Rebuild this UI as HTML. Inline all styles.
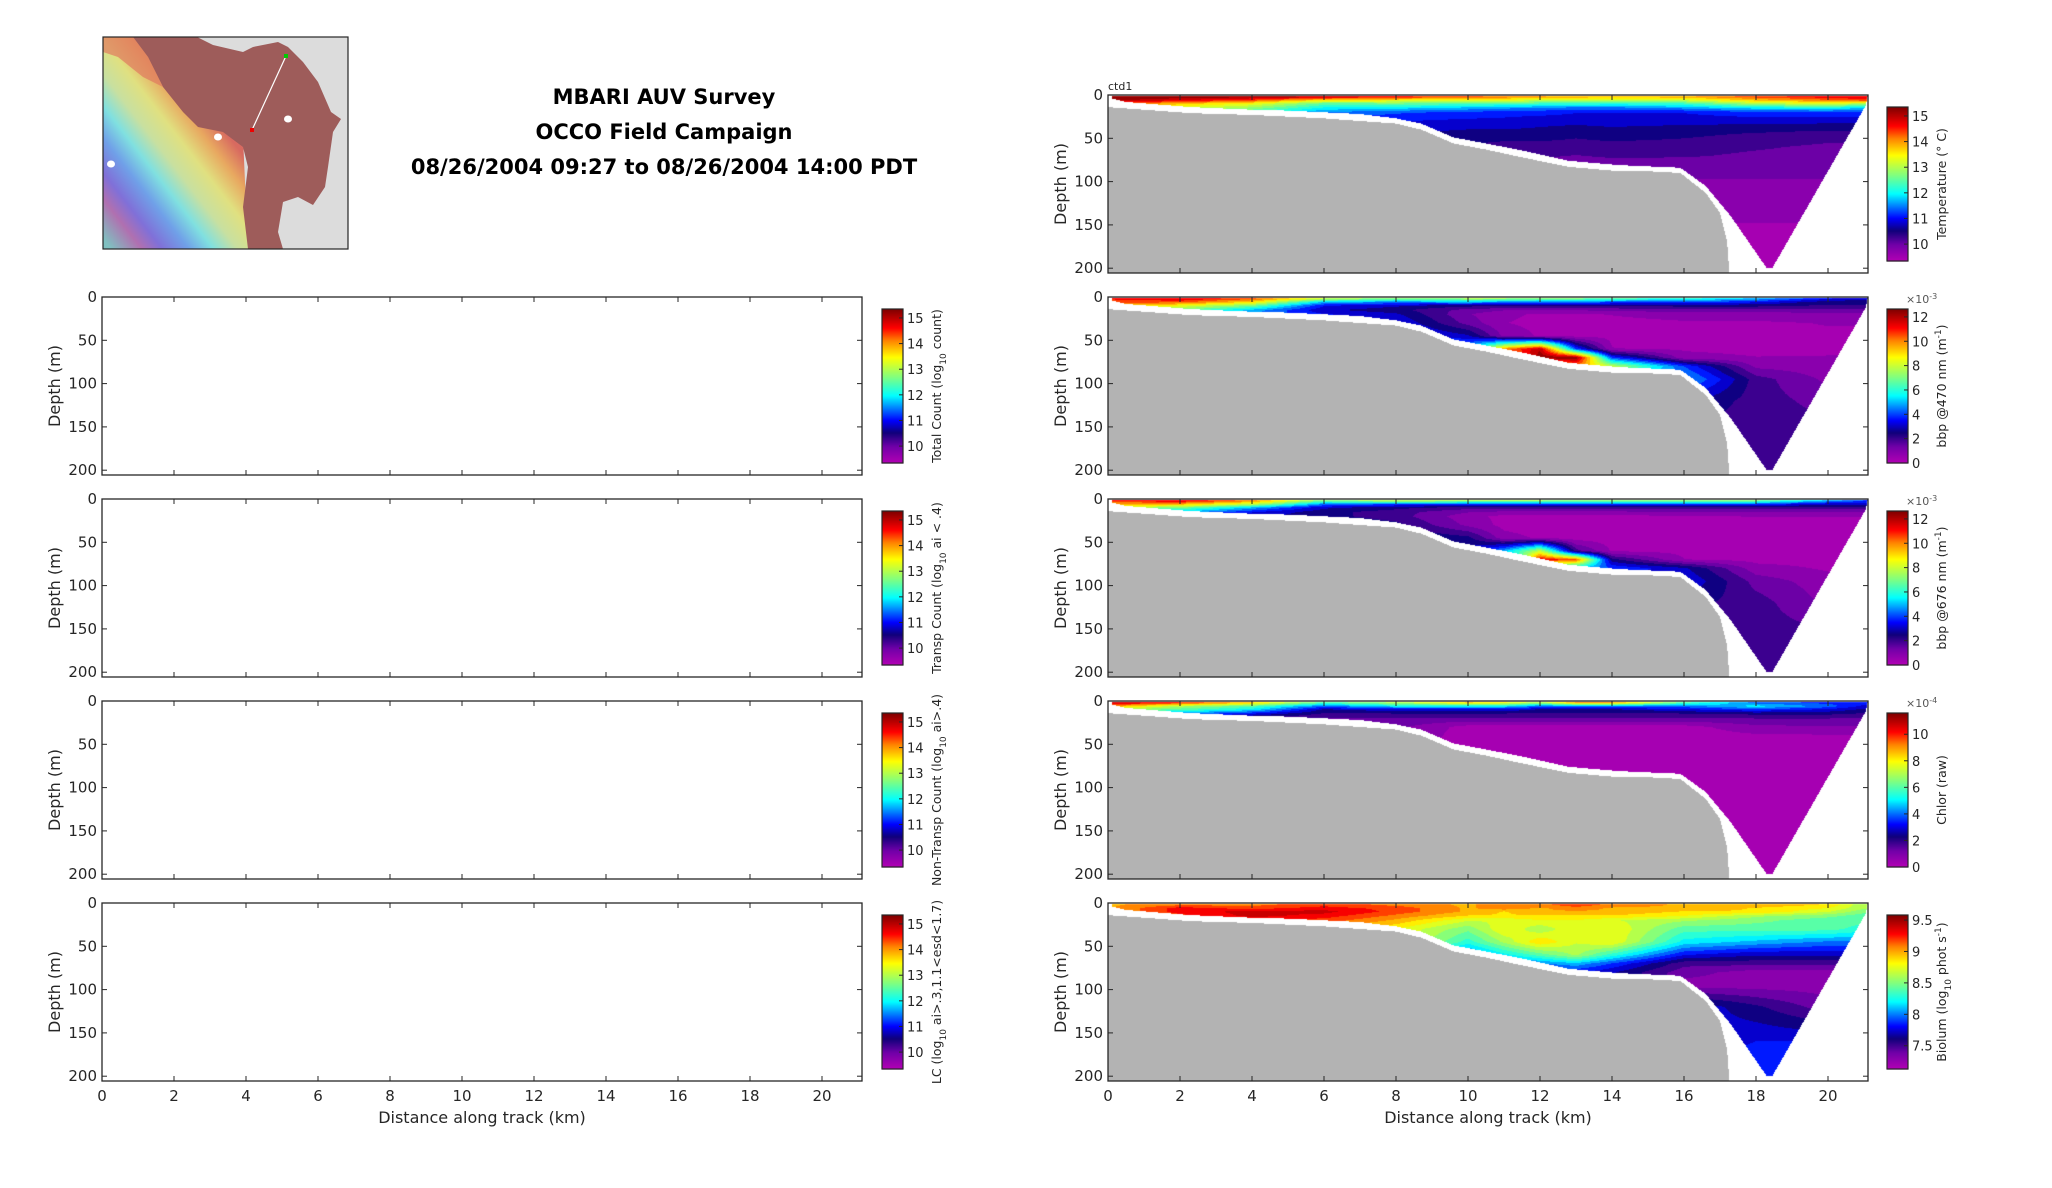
<!DOCTYPE html>
<html><head><meta charset="utf-8">
<style>
html,body{margin:0;padding:0;background:#fff;}
#root{position:relative;width:2052px;height:1188px;overflow:hidden;font-family:"DejaVu Sans","Liberation Sans",sans-serif;}
canvas{position:absolute;}
svg{position:absolute;left:0;top:0;}
</style></head>
<body>
<div id="root">
<svg id="ov" width="2052" height="1188"></svg>
</div>
<script>
// ---------- data ----------
const xKm = [0,2,4,6,8,10,11,12,13,14,16,18,20,21];
const dLev = [2,6,10,15,20,30,45,60,70,80,95,120,160,200];
const sfKm  = [0,1,2.3,4,5,6,7,8,8.7,9.6,10.5,11.5,12.8,14.2,15,15.9,16.6,17.0,17.2,17.26];
const sfDep = [14,17,21,23,25,27,30,33,40,56,63,72,83,88,88,90,113,136,170,206];
const envKm  = [0.1,0.5,2.3,4,5,6,7,8,8.7,9.6,10.5,11.5,12.8,14.2,15.9,16.6,17.0,17.3,18.3,18.45,21.05,21.1];
const envDep = [4,8,14,17,18,20,22,27,33,49,56,64,76,81,84,105,125,140,200,200,12,2];
const tempVals = [
[15.3,15.3,15.2,15.0,14.6,14.3,14.2,14.0,13.9,13.8,13.9,14.4,14.7,14.8],
[15.2,14.8,14.4,13.6,13.5,13.3,13.3,13.2,13.2,13.1,13.2,13.8,14.2,14.4],
[14.3,13.8,13.4,12.5,12.6,12.4,12.4,12.3,12.3,12.2,12.3,13.0,13.3,13.0],
[13.5,13.2,12.8,12.0,11.9,11.7,11.6,11.5,11.4,11.4,11.6,11.9,12.0,11.8],
[13.0,12.8,12.3,11.5,11.3,11.2,11.1,11.1,11.0,11.0,11.0,11.2,11.2,11.2],
[12.5,12.3,11.8,11.1,11.0,10.9,10.9,10.8,10.8,10.8,10.8,10.8,10.8,10.8],
[12.0,12.0,11.5,10.8,10.7,10.6,10.6,10.6,10.5,10.6,10.5,10.4,10.3,10.3],
[10.4,10.4,10.4,10.4,10.4,10.4,10.3,10.3,10.3,10.3,10.3,10.2,10.1,10.1],
[10.2,10.2,10.2,10.2,10.2,10.2,10.2,10.2,10.15,10.2,10.2,10.1,10.05,10.05],
[10.05,10.05,10.05,10.05,10.05,10.05,10.05,10.05,10.05,10.05,10.0,10.0,10.0,10.0],
[9.9,9.9,9.9,9.9,9.9,9.9,9.9,9.9,9.9,9.9,9.9,9.9,9.9,9.9],
[9.75,9.75,9.75,9.75,9.75,9.75,9.75,9.75,9.75,9.75,9.75,9.75,9.75,9.75],
[9.55,9.55,9.55,9.55,9.55,9.55,9.55,9.55,9.55,9.55,9.55,9.55,9.55,9.55],
[9.4,9.4,9.4,9.4,9.4,9.4,9.4,9.4,9.4,9.4,9.4,9.4,9.4,9.4]];
const bbp470Vals = [
[11,11.5,10.5,8,7,7.5,7.5,7,7,6.5,6,5,3.5,3],
[10.5,10.5,9,5,4.5,5,4.5,4.5,4.5,4,4,3.5,2.5,2.5],
[9.5,8.5,7,3.5,3,2.5,2.5,2.5,2.5,2.5,2.5,2.5,2.2,2.2],
[8,7,5,3,2.5,1.5,1.2,1.2,1.2,1.3,1.5,1.5,1.5,1.5],
[7,6,4.5,3.5,3,1.2,0.7,0.5,0.5,0.6,0.8,0.8,1,1],
[5,5,4.5,4,3.5,1.5,0.6,0.4,0.4,0.4,0.5,0.5,0.6,0.6],
[4,4,4,4,4,3,1,0.5,0.4,0.4,0.4,0.4,0.5,0.5],
[4,4,4,4,4,5,10,12,4,0.6,0.5,0.4,0.5,0.5],
[4,4,4,4,4,4,9,12.5,12.5,4,0.8,0.6,0.6,0.6],
[4,4,4,4,4,4,4,7,10,8,4,1,0.8,0.8],
[3,3,3,3,3,3,3,3,4,4,5,2,1,1],
[2.5,2.5,2.5,2.5,2.5,2.5,2.5,2.5,2.5,2.5,3,2,1.5,1.5],
[2,2,2,2,2,2,2,2,2,2,2,2,2,2],
[1.8,1.8,1.8,1.8,1.8,1.8,1.8,1.8,1.8,1.8,1.8,1.8,1.8,1.8]];
const bbp676Vals = [
[11,11.5,10,7,8,7.5,7.5,7.5,7,7,7,7,5,4],
[9.5,9.5,8,4.5,4,4,4,4,4,4,4,4,3,3],
[8,7,5,3,2.5,2,2,2,2,2,2,2,2,2],
[6,5,3.5,2.5,2,1.2,1,1,1,1,1.2,1.2,1.2,1.2],
[5,4,3,2.5,2,0.8,0.4,0.4,0.4,0.4,0.5,0.6,0.6,0.6],
[4,4,3,3,2.5,1,0.4,0.3,0.3,0.3,0.4,0.4,0.4,0.4],
[3,3,3,3,3,2.5,0.8,0.5,0.3,0.3,0.3,0.3,0.3,0.3],
[3,3,3,3,3,3,5,8,2,0.5,0.4,0.3,0.3,0.3],
[3,3,3,3,3,3,3,11.5,10.5,2.5,0.6,0.4,0.4,0.4],
[3,3,3,3,3,3,3,4,5,4,3,0.8,0.5,0.5],
[2.5,2.5,2.5,2.5,2.5,2.5,2.5,2.5,2.5,2.5,3.5,1.5,0.8,0.8],
[2.2,2.2,2.2,2.2,2.2,2.2,2.2,2.2,2.2,2.2,2.5,2,1,1],
[2,2,2,2,2,2,2,2,2,2,2,2,2,2],
[1.8,1.8,1.8,1.8,1.8,1.8,1.8,1.8,1.8,1.8,1.8,1.8,1.8,1.8]];
const chlorVals = [
[11,10,8.5,6,7,8.5,8,7,9,9,6,4,3.5,3.5],
[9,7,6,4,5,5,5,4,4,4,4,5,4,3],
[7,6,5,2.5,3,3,3,2.5,2.5,2.5,3,3.5,3,2.5],
[5,4,3,2,2,2,2,2,2,2,2,2.2,2.2,2],
[4,3,2,1.5,1.5,1.5,1.5,1.5,1.5,1.5,1.5,1.6,1.6,1.5],
[3,2,2,1.5,1.2,0.3,0.3,0.3,0.3,0.3,0.3,0.9,1,1],
[2,2,2,1.5,1,0.2,0.2,0.2,0.2,0.2,0.2,0.2,0.2,0.2],
[0.2,0.2,0.2,0.2,0.2,0.2,0.2,0.2,0.2,0.2,0.2,0.2,0.2,0.2],
[0.2,0.2,0.2,0.2,0.2,0.2,0.2,0.2,0.2,0.2,0.2,0.2,0.2,0.2],
[0.2,0.2,0.2,0.2,0.2,0.2,0.2,0.2,0.2,0.2,0.2,0.2,0.2,0.2],
[0.2,0.2,0.2,0.2,0.2,0.2,0.2,0.2,0.2,0.2,0.2,0.2,0.2,0.2],
[0.2,0.2,0.2,0.2,0.2,0.2,0.2,0.2,0.2,0.2,0.2,0.2,0.2,0.2],
[0.2,0.2,0.2,0.2,0.2,0.2,0.2,0.2,0.2,0.2,0.2,0.2,0.2,0.2],
[0.2,0.2,0.2,0.2,0.2,0.2,0.2,0.2,0.2,0.2,0.2,0.2,0.2,0.2]];
const biolumVals = [
[9.0,9.1,9.1,9.2,9.1,9.0,9.1,9.1,9.2,9.1,9.0,9.0,8.9,8.6],
[9.0,9.3,9.2,9.3,9.2,9.0,9.1,9.0,9.1,9.0,9.0,8.9,8.8,8.6],
[9.0,9.3,9.4,9.4,9.2,9.0,8.9,9.0,9.0,9.0,8.9,8.9,8.7,8.5],
[9.0,9.2,9.4,9.3,9.1,8.9,8.9,8.9,8.9,8.9,8.8,8.6,8.5,8.4],
[9.0,9.0,9.2,9.2,9.0,8.7,8.7,8.8,8.8,8.7,8.6,8.5,8.4,8.4],
[9.0,9.0,9.0,9.0,8.8,8.5,8.8,8.6,8.8,8.8,8.4,8.4,8.4,8.3],
[9.0,9.0,9.0,9.0,8.8,8.3,8.6,8.9,8.7,8.8,8.2,8.1,8.0,8.0],
[8.5,8.5,8.5,8.5,8.3,7.9,8.2,8.4,8.6,8.3,7.8,7.7,7.7,7.7],
[8.2,8.2,8.2,8.2,8.0,7.8,7.9,8.0,8.1,7.9,7.5,7.5,7.5,7.5],
[7.9,7.9,7.9,7.9,7.9,7.8,7.8,7.8,7.8,7.7,7.4,7.3,7.3,7.4],
[7.8,7.8,7.8,7.8,7.8,7.8,7.8,7.8,7.8,7.8,7.3,7.3,7.3,7.3],
[7.6,7.6,7.6,7.6,7.6,7.6,7.6,7.6,7.6,7.6,7.8,7.6,7.4,7.4],
[7.8,7.8,7.8,7.8,7.8,7.8,7.8,7.8,7.8,7.8,7.7,7.8,7.8,7.8],
[7.9,7.9,7.9,7.9,7.9,7.9,7.9,7.9,7.9,7.9,7.9,7.9,7.9,7.9]];
const xTicks = [0,2,4,6,8,10,12,14,16,18,20];
const yTicks = [0,50,100,150,200];
const leftCbTicks = [10,11,12,13,14,15];
const tempTicks = [10,11,12,13,14,15];
const bbpTicks = [0,2,4,6,8,10,12];
const chlorTicks = [0,2,4,6,8,10];
const biolumTicks = [7.5,8,8.5,9,9.5];

// ---------- helpers ----------
const NS='http://www.w3.org/2000/svg';
const ov=document.getElementById('ov');
const root=document.getElementById('root');
function el(tag,attrs,parent){const e=document.createElementNS(NS,tag);for(const k in attrs)e.setAttribute(k,attrs[k]);(parent||ov).appendChild(e);return e;}
function lin(xs,ys,x){if(x<=xs[0])return ys[0];for(let i=0;i<xs.length-1;i++){if(x<=xs[i+1]){const t=(x-xs[i])/(xs[i+1]-xs[i]||1);return ys[i]+t*(ys[i+1]-ys[i]);}}return ys[ys.length-1];}
function idx(arr,v){if(v<=arr[0])return [0,0];for(let i=0;i<arr.length-1;i++){if(v<=arr[i+1])return [i,(v-arr[i])/(arr[i+1]-arr[i])];}return [arr.length-2,1];}
function bil(g,km,d){const [i,tx]=idx(xKm,km);const [j,ty]=idx(dLev,d);
 const a=g[j][i],b=g[j][i+1],c=g[j+1][i],e=g[j+1][i+1];
 return (a*(1-tx)+b*tx)*(1-ty)+(c*(1-tx)+e*tx)*ty;}
const CM=[[0,180,0,180],[0.11,112,0,168],[0.2,16,0,122],[0.28,0,0,255],[0.44,0,255,255],[0.56,128,255,128],[0.69,255,255,0],[0.8,255,128,0],[0.88,255,0,0],[1,128,0,0]];
function cmap(t){t=Math.max(0,Math.min(1,t));for(let i=0;i<CM.length-1;i++){if(t<=CM[i+1][0]){const u=(t-CM[i][0])/(CM[i+1][0]-CM[i][0]);return [0,1,2].map(k=>Math.round(CM[i][k+1]+u*(CM[i+1][k+1]-CM[i][k+1])));}}return [128,0,0];}
const PXKM=36, PXM=0.866, AW=760, AH=178;
const FONT='"DejaVu Sans","Liberation Sans",sans-serif';

function axes(x0,y0,showX,name){
 const g=el('g',{});
 el('rect',{x:x0,y:y0,width:AW,height:AH,fill:'none',stroke:'#262626','stroke-width':1.3},g);
 xTicks.forEach(v=>{const x=x0+v*PXKM;
  el('line',{x1:x,y1:y0+AH,x2:x,y2:y0+AH-5,stroke:'#262626'},g);
  el('line',{x1:x,y1:y0,x2:x,y2:y0+5,stroke:'#262626'},g);
  if(showX){const t=el('text',{x:x,y:y0+AH+20,'text-anchor':'middle','font-size':15,fill:'#262626','font-family':FONT},g);t.textContent=v;
   
   }
 });
 yTicks.forEach(v=>{const y=y0+v*PXM;
  el('line',{x1:x0,y1:y,x2:x0+5,y2:y,stroke:'#262626'},g);
  el('line',{x1:x0+AW,y1:y,x2:x0+AW-5,y2:y,stroke:'#262626'},g);
  const t=el('text',{x:x0-5,y:y+5,'text-anchor':'end','font-size':15,fill:'#262626','font-family':FONT},g);t.textContent=v;
  
  
 });
 const yl=el('text',{x:0,y:0,transform:`translate(${x0-42},${y0+AH/2}) rotate(-90)`,'text-anchor':'middle','font-size':16,fill:'#262626','font-family':FONT},g);
 yl.textContent='Depth (m)';
 
 
 if(showX){const xl=el('text',{x:x0+AW/2,y:y0+AH+42,'text-anchor':'middle','font-size':16,fill:'#262626','font-family':FONT},g);xl.textContent='Distance along track (km)';
  
  }
}

function colorbar(x,y0,vmin,vmax,ticks,labelParts,expo,name){
 const g=el('g',{});
 const top=y0+12,h=154,w=21;
 const N=154;
 for(let i=0;i<N;i++){const v=vmin+(vmax-vmin)*(i+0.5)/N;const c=cmap((v-vmin)/(vmax-vmin));
  const r=el('rect',{x:x,y:top+h-(i+1)*h/N,width:w,height:h/N+0.6,fill:`rgb(${c})`},g);
  
  }
 el('rect',{x:x,y:top,width:w,height:h,fill:'none',stroke:'#262626','stroke-width':1.2},g);
 ticks.forEach(v=>{const y=top+h-(v-vmin)/(vmax-vmin)*h;
  el('line',{x1:x+w,y1:y,x2:x+w-4,y2:y,stroke:'#262626'},g);
  const t=el('text',{x:x+w+4,y:y+5,'font-size':13,fill:'#262626','font-family':FONT},g);t.textContent=v;
  
  });
 const lt=el('text',{x:0,y:0,transform:`translate(${x+w+38},${top+h/2}) rotate(-90)`,'text-anchor':'middle','font-size':12.5,fill:'#262626','font-family':FONT},g);
 
 
 labelParts.forEach(p=>{const ts=el('tspan',{},lt);ts.textContent=p[0];if(p[1]==='sub'){ts.setAttribute('baseline-shift','sub');ts.setAttribute('font-size','9');}if(p[1]==='sup'){ts.setAttribute('baseline-shift','super');ts.setAttribute('font-size','9');}});
 if(expo){const e=el('text',{x:x+w-2,y:top-6,'font-size':11,fill:'#555','font-family':FONT},g);
  
  
  const a=el('tspan',{},e);a.textContent='\u00d710';const b=el('tspan',{'baseline-shift':'super','font-size':8},e);b.textContent=expo;}
}

function field(x0,y0,grid,vmin,vmax,name){
 const cv=document.createElement('canvas');cv.width=AW;cv.height=AH;cv.style.left=x0+'px';cv.style.top=y0+'px';
 
 
 root.insertBefore(cv,ov);
 const ctx=cv.getContext('2d');const im=ctx.createImageData(AW,AH);const L=22;
 for(let py=0;py<AH;py++){const d=(py+0.5)/PXM;
  for(let px=0;px<AW;px++){const km=(px+0.5)/PXKM;let c=[255,255,255];
   if(km<=17.26 && d>=lin(sfKm,sfDep,km)) c=[179,179,179];
   else if(km>=0.1&&km<=21.1&&d>=1&&d<=lin(envKm,envDep,km)){
    let t=(bil(grid,km,Math.max(d,2))-vmin)/(vmax-vmin);t=Math.max(0,Math.min(0.999,t));
    t=(Math.floor(t*L)+0.5)/L;c=cmap(t);}
   const o=(py*AW+px)*4;im.data[o]=c[0];im.data[o+1]=c[1];im.data[o+2]=c[2];im.data[o+3]=255;}}
 ctx.putImageData(im,0,0);
}

// ---------- layout ----------
const RX=1108, LX=102, tops=[95,297,499,701,903];
const rightPanels=[
 {g:tempVals,min:9.34,max:15.35,ticks:tempTicks,lab:[['Temperature (\u00b0 C)']],ex:null,n:'temperature'},
 {g:bbp470Vals,min:0,max:12.65,ticks:bbpTicks,lab:[['bbp @470 nm (m'],['-1','sup'],[')']],ex:'-3',n:'bbp470'},
 {g:bbp676Vals,min:0,max:12.65,ticks:bbpTicks,lab:[['bbp @676 nm (m'],['-1','sup'],[')']],ex:'-3',n:'bbp676'},
 {g:chlorVals,min:0,max:11.6,ticks:chlorTicks,lab:[['Chlor (raw)']],ex:'-4',n:'chlor'},
 {g:biolumVals,min:7.13,max:9.58,ticks:biolumTicks,lab:[['Biolum (log'],['10','sub'],[' phot s'],['-1','sup'],[')']],ex:null,n:'biolum'}];
rightPanels.forEach((p,i)=>{
 field(RX,tops[i],p.g,p.min,p.max,p.n+'-section');
 axes(RX,tops[i],i===4,p.n+'-axes');
 colorbar(1887,tops[i],p.min,p.max,p.ticks,p.lab,p.ex,p.n+'-colorbar');
});
const leftLabels=[
 [['Total Count (log'],['10','sub'],[' count)']],
 [['Transp Count (log'],['10','sub'],[' ai < .4)']],
 [['Non-Transp Count (log'],['10','sub'],[' ai>.4)']],
 [['LC (log'],['10','sub'],[' ai>.3,1.1<esd<1.7)']]];
const leftNames=['total-count','transp-count','nontransp-count','lc-count'];
for(let i=0;i<4;i++){
 axes(LX,tops[i+1],i===3,leftNames[i]+'-axes');
 colorbar(882,tops[i+1],9.34,15.35,leftCbTicks,leftLabels[i],null,leftNames[i]+'-colorbar');
}
const ct=el('text',{x:RX,y:90,'font-size':11,fill:'#262626','font-family':FONT});ct.textContent='ctd1';



// title
const titles=['MBARI AUV Survey','OCCO Field Campaign','08/26/2004 09:27 to 08/26/2004 14:00 PDT'];
titles.forEach((s,i)=>{const t=el('text',{x:664,y:104+i*35,'text-anchor':'middle','font-size':21,'font-weight':'bold',fill:'#000','font-family':FONT});t.textContent=s;
 
 });

// map
const mg=el('g',{transform:'translate(103,37)',});
const defs=el('defs',{},ov);
const lg=el('linearGradient',{id:'rb',x1:'0.62',y1:'0.25',x2:'0.0',y2:'0.95'},defs);
[['0','#d86a60'],['0.12','#e8a860'],['0.25','#e0e080'],['0.38','#c8e0a0'],['0.5','#80e0e0'],['0.62','#70a0e8'],['0.75','#8070d8'],['0.85','#b070b0'],['1','#80c0c0']].forEach(s=>el('stop',{offset:s[0],'stop-color':s[1]},lg));
el('rect',{x:0,y:0,width:245,height:212,fill:'#dcdcdc'},mg);
el('polygon',{points:'0,0 95,0 140,100 145,212 0,212',fill:'url(#rb)'},mg);
el('polygon',{points:'30,0 94,0 110,8 140,15 150,10 175,5 185,10 200,25 215,45 228,75 238,82 230,95 225,130 222,150 210,168 195,160 180,165 175,195 180,212 145,212 140,170 145,130 140,110 120,95 95,90 80,75 60,50 45,20',fill:'#9e5c5a'},mg);
el('polygon',{points:'0,0 30,0 45,20 60,50 40,40 15,20 0,15',fill:'#e07a60',opacity:0.7},mg);
[[8,127],[185,82],[115,100]].forEach(p=>el('ellipse',{cx:p[0],cy:p[1],rx:4,ry:3.5,fill:'#fff'},mg));
el('line',{x1:183,y1:19,x2:149,y2:93,stroke:'#fff','stroke-width':1.2},mg);
el('rect',{x:181,y:17,width:4,height:4,fill:'#0c0'},mg);
el('rect',{x:147,y:91,width:4,height:4,fill:'#e00'},mg);
el('rect',{x:0,y:0,width:245,height:212,fill:'none',stroke:'#262626','stroke-width':1.2},mg);
</script>
</body></html>
